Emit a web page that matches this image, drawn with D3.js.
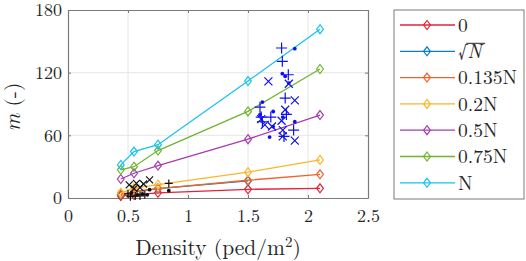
<!DOCTYPE html>
<html lang="en">
<head>
<meta charset="UTF-8">
<title>m vs density</title>
<style>
  body { margin: 0; padding: 0; background: #fff; }
  svg { display: block; }
  svg text { font-family: 'Latin Modern Roman', 'Liberation Serif', serif; }
</style>
</head>
<body>
<div id="chart"></div>
<script src="https://cdn.jsdelivr.net/npm/d3@7"></script>
<script>
// density values of the model curves
const densX = [0.44, 0.55, 0.75, 1.5, 2.1];

const seriesNames = ["0", "sqrtN", "0.135N", "0.2N", "0.5N", "0.75N", "N"];
const seriesColors = ["#e0223b", "#0a7fc4", "#f2622b", "#fbb52b", "#a73bb0", "#6fb52f", "#16c4ec"];
const s0 = [2, 3, 5, 8.3, 9.3];
const sSqrtN = [3, 6, 9, 16.3];
const s0135N = [3.5, 6, 9, 17, 22.7];
const s02N = [5, 9.3, 12.8, 24.7, 36.5];
const s05N = [18.2, 23.7, 31, 56.3, 79.4];
const s075N = [27, 30, 45.4, 82.9, 123.5];
const sN = [31.7, 44.5, 51, 112, 161.6];
const seriesValues = [s0, sSqrtN, s0135N, s02N, s05N, s075N, sN];

// observed points, high density group (blue)
const bluePlus = [[1.78, 143.6], [1.786, 130.9], [1.836, 118], [1.81, 95.7], [1.6, 87], [1.61, 77.5],
  [1.69, 77.5], [1.88, 65], [1.8, 59], [1.62, 73], [1.82, 80]];
const blueCross = [[1.67, 111.7], [1.84, 109.4], [1.89, 93.4], [1.81, 84.5], [1.61, 75.5], [1.7, 68.5],
  [1.78, 74], [1.79, 59], [1.89, 55], [1.79, 65], [1.64, 70]];
const blueDot = [[1.89, 143], [1.786, 119], [1.81, 116.5], [1.84, 110], [1.62, 91.8], [1.71, 82.8],
  [1.6, 79.7], [1.79, 77.5], [1.68, 58.3], [1.89, 73], [1.71, 68.4]];

// observed points, low density group (black)
const blackCross = [[0.51, 12.5], [0.57, 14], [0.63, 13.4], [0.68, 17.3], [0.55, 9], [0.6, 10]];
const blackPlus = [[0.84, 14], [0.52, 1.3], [0.56, 2], [0.6, 2], [0.64, 3], [0.5, 4]];
const blackDot = [[0.84, 7], [0.68, 8], [0.62, 4], [0.66, 3], [0.53, 5], [0.58, 3]];

const xTicks = [0, 0.5, 1, 1.5, 2, 2.5];
const yTicks = [0, 60, 120, 180];

const w = 526, h = 261;
const pLeft = 68, pRight = 368, pTop = 10, pBottom = 198;
const font = "'Latin Modern Roman', 'Liberation Serif', serif";

const svg = d3.select("#chart").append("svg").attr("width", w).attr("height", h);

const x = d3.scaleLinear().domain([0, 2.5]).range([pLeft, pRight]);
const y = d3.scaleLinear().domain([0, 180]).range([pBottom, pTop]);

const axisColor = "#7a7a7a";
const textColor = "#262626";

// grid
svg.append("g").selectAll("line").data(xTicks.slice(1, -1)).join("line")
  .attr("x1", d => x(d)).attr("x2", d => x(d)).attr("y1", pTop).attr("y2", pBottom)
  .attr("stroke", "#e6e6e6").attr("stroke-width", 1);
svg.append("g").selectAll("line").data(yTicks.slice(1, -1)).join("line")
  .attr("y1", d => y(d)).attr("y2", d => y(d)).attr("x1", pLeft).attr("x2", pRight)
  .attr("stroke", "#e6e6e6").attr("stroke-width", 1);

// axes with inward ticks
function styleAxis(g) {
  g.attr("font-family", font);
  g.select(".domain").attr("stroke", axisColor).attr("stroke-width", 1.2);
  g.selectAll(".tick line").attr("stroke", axisColor).attr("stroke-width", 1);
  g.selectAll(".tick text").attr("fill", textColor).attr("font-size", 18);
}
svg.append("g").attr("transform", `translate(0,${pBottom})`)
  .call(d3.axisBottom(x).tickValues(xTicks).tickSize(-3).tickSizeOuter(0).tickPadding(11).tickFormat(d3.format("")))
  .call(styleAxis);
svg.append("g").attr("transform", `translate(0,${pTop})`)
  .call(d3.axisTop(x).tickValues(xTicks).tickSize(-3).tickSizeOuter(0).tickFormat(""))
  .call(styleAxis);
svg.append("g").attr("transform", `translate(${pLeft},0)`)
  .call(d3.axisLeft(y).tickValues(yTicks).tickSize(-3).tickSizeOuter(0).tickPadding(6))
  .call(styleAxis);
svg.append("g").attr("transform", `translate(${pRight},0)`)
  .call(d3.axisRight(y).tickValues(yTicks).tickSize(-3).tickSizeOuter(0).tickFormat(""))
  .call(styleAxis);

// model curves
const diamond = "M0,-4.5L3.4,0L0,4.5L-3.4,0Z";
const line = d3.line().x(d => x(d[0])).y(d => y(d[1]));
seriesValues.forEach((vals, i) => {
  const pts = vals.map((v, j) => [densX[j], v]);
  const g = svg.append("g");
  g.append("path").datum(pts).attr("d", line).attr("fill", "none")
    .attr("stroke", seriesColors[i]).attr("stroke-width", 1.3);
  g.selectAll("path.m").data(pts).join("path").attr("class", "m")
    .attr("d", diamond).attr("transform", d => `translate(${x(d[0])},${y(d[1])})`)
    .attr("fill", "none").attr("stroke", seriesColors[i]).attr("stroke-width", 1.2);
});

// observed markers
function plus(g, data, color, s) {
  g.selectAll(null).data(data).join("path")
    .attr("d", `M${-s},0H${s}M0,${-s}V${s}`)
    .attr("transform", d => `translate(${x(d[0])},${y(d[1])})`)
    .attr("stroke", color).attr("stroke-width", 1.2).attr("fill", "none");
}
function cross(g, data, color, s) {
  g.selectAll(null).data(data).join("path")
    .attr("d", `M${-s},${-s}L${s},${s}M${-s},${s}L${s},${-s}`)
    .attr("transform", d => `translate(${x(d[0])},${y(d[1])})`)
    .attr("stroke", color).attr("stroke-width", 1.2).attr("fill", "none");
}
function dot(g, data, color) {
  g.selectAll(null).data(data).join("circle")
    .attr("cx", d => x(d[0])).attr("cy", d => y(d[1])).attr("r", 1.9).attr("fill", color);
}
const obs = svg.append("g");
plus(obs, bluePlus, "#1010ee", 5.5);
cross(obs, blueCross, "#1010ee", 4);
dot(obs, blueDot, "#1010ee");
cross(obs, blackCross, "#111", 3.5);
plus(obs, blackPlus, "#111", 4);
dot(obs, blackDot, "#111");

// axis titles
const xl = svg.append("text").attr("x", (pLeft + pRight) / 2).attr("y", 255)
  .attr("text-anchor", "middle").attr("font-size", 21.5).attr("fill", textColor);
xl.append("tspan").text("Density (ped/m");
xl.append("tspan").attr("dy", -8).attr("font-size", 15).text("2");
xl.append("tspan").attr("dy", 8).text(")");

const yl = svg.append("text").attr("transform", "translate(20,107) rotate(-90)")
  .attr("text-anchor", "middle").attr("font-size", 21.5).attr("fill", textColor);
yl.append("tspan").attr("font-style", "italic").text("m");
yl.append("tspan").text(" (-)");

// legend
const lg = svg.append("g");
lg.append("rect").attr("x", 394).attr("y", 10).attr("width", 130).attr("height", 189)
  .attr("fill", "#fff").attr("stroke", axisColor).attr("stroke-width", 1);
seriesNames.forEach((name, i) => {
  const cy = 25 + i * 26.3;
  lg.append("line").attr("x1", 400).attr("x2", 455).attr("y1", cy).attr("y2", cy)
    .attr("stroke", seriesColors[i]).attr("stroke-width", 1.3);
  lg.append("path").attr("d", diamond).attr("transform", `translate(427,${cy})`)
    .attr("fill", "none").attr("stroke", seriesColors[i]).attr("stroke-width", 1.2);
  const t = lg.append("text").attr("x", 458).attr("y", cy + 6.7).attr("font-size", 19.5).attr("fill", textColor);
  if (name === "sqrtN") {
    const r = t.append("tspan").text("\u221A");
    t.append("tspan").attr("font-style", "italic").text("N");
    const bb = t.node().getBBox();
    const root = r.node().getComputedTextLength();
    lg.append("line").attr("x1", 458 + root - 1).attr("x2", bb.x + bb.width + 1)
      .attr("y1", cy - 8).attr("y2", cy - 8).attr("stroke", textColor).attr("stroke-width", 1);
  } else {
    t.text(name);
  }
});
</script>
</body>
</html>
